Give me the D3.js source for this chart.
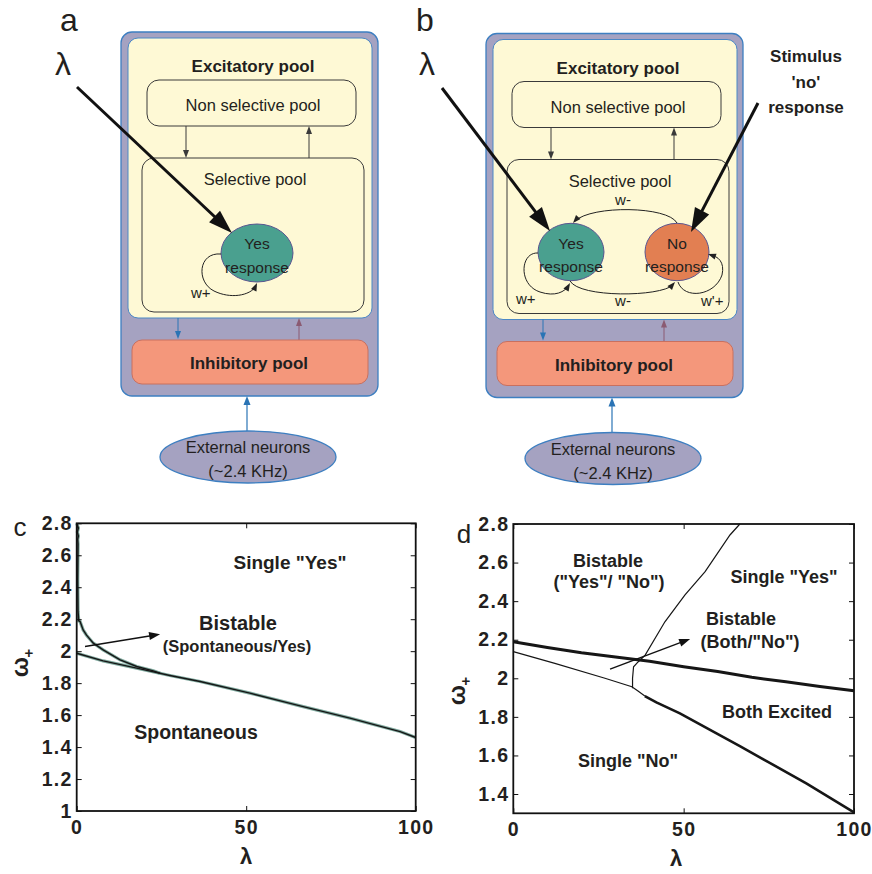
<!DOCTYPE html>
<html><head><meta charset="utf-8">
<script src="https://cdn.jsdelivr.net/npm/d3@7"></script>
<style>
body{margin:0;background:#fff}
svg{display:block}
text{font-family:"Liberation Sans",Arial,Helvetica,sans-serif;fill:#231f20}
</style>
</head><body>
<svg id="fig" width="872" height="874"></svg>
<script>
// ---------------- data ----------------
const lambdaTicks = [0, 50, 100];
const cOmegaTicks = [1, 1.2, 1.4, 1.6, 1.8, 2, 2.2, 2.4, 2.6, 2.8];
const dOmegaTicks = [1.4, 1.6, 1.8, 2, 2.2, 2.4, 2.6, 2.8];

// panel c: boundary curves (lambda, omega+)
const cUpperLambda = [0, 0.5, 0.2, 0.5, 0.3, 0.4, 0.3, 0.4, 0.6, 1.0, 1.9, 2.9, 4.9, 7.8, 12.8, 17.7, 22.6, 24.6];
const cUpperOmega  = [2.8, 2.77, 2.745, 2.72, 2.70, 2.67, 2.45, 2.25, 2.19, 2.185, 2.133, 2.10, 2.05, 2.008, 1.946, 1.904, 1.877, 1.862];
const cLowerLambda = [0, 7.8, 17.7, 27.5, 36.4, 51.1, 65.9, 80.6, 95.4, 100];
const cLowerOmega  = [1.987, 1.939, 1.894, 1.848, 1.81, 1.7375, 1.658, 1.581, 1.497, 1.46];

// panel d: boundary curves
const dUpperLambda = [0, 10, 20, 30, 40, 50, 60, 70, 80, 90, 100];
const dUpperOmega  = [2.19, 2.16, 2.132, 2.11, 2.088, 2.06, 2.035, 2.005, 1.982, 1.958, 1.935];
const dLowerThinLambda = [0, 12.2, 26.9, 34.8, 36.5, 38.6];
const dLowerThinOmega  = [2.138, 2.077, 2.0, 1.956, 1.935, 1.908];
const dLowerThickLambda = [38.6, 42, 48.9, 58.7, 66.5, 73.4, 86, 100];
const dLowerThickOmega  = [1.908, 1.875, 1.818, 1.723, 1.648, 1.58, 1.455, 1.305];
const dSteepLambda = [35.0, 35.0, 35.3, 36.7, 38.7, 44.5, 50.4, 56.3, 63.6, 66.5];
const dSteepOmega  = [1.948, 2.0, 2.06, 2.086, 2.12, 2.293, 2.432, 2.553, 2.743, 2.8];

// annotation arrows (data coords: lambda, omega)
const cArrowLambda = [2.45, 24.6], cArrowOmega = [2.029, 2.106];
const dArrowLambda = [28.4, 51.9], dArrowOmega = [2.048, 2.204];

// ---------------- helpers ----------------
const svg = d3.select('#fig');
const zip = (a, b) => a.map((v, i) => [v, b[i]]);

function head(g, tipX, tipY, fromX, fromY, len, w, color) {
  const a = Math.atan2(tipY - fromY, tipX - fromX);
  const bx = tipX - len * Math.cos(a), by = tipY - len * Math.sin(a);
  const px = -Math.sin(a) * w / 2, py = Math.cos(a) * w / 2;
  g.append('path')
    .attr('d', `M${tipX},${tipY}L${bx + px},${by + py}L${bx - px},${by - py}Z`)
    .attr('fill', color);
  return [tipX - (len * 0.7) * Math.cos(a), tipY - (len * 0.7) * Math.sin(a)];
}
function arrow(g, x1, y1, x2, y2, sw, len, w, color) {
  const [bx, by] = head(g, x2, y2, x1, y1, len, w, color);
  g.append('line').attr('x1', x1).attr('y1', y1).attr('x2', bx).attr('y2', by)
    .attr('stroke', color).attr('stroke-width', sw);
}
function curveArrow(g, d, tip, from, color) {
  g.append('path').attr('d', d).attr('fill', 'none').attr('stroke', color).attr('stroke-width', 1);
  head(g, tip[0], tip[1], from[0], from[1], 8, 6, color);
}
function txt(g, x, y, s, size, weight, anchor) {
  return g.append('text').attr('x', x).attr('y', y).attr('font-size', size)
    .attr('font-weight', weight || 'normal').attr('text-anchor', anchor || 'middle').text(s);
}

// ---------------- diagrams a & b ----------------
const PURPLE = '#a5a2c1', BLUE = '#3d7fc1', YELLOW = '#fef9d5', GREY = '#3a3a3a';
function drawFrame(ox, oy) {
  const g = svg.append('g').attr('transform', `translate(${ox},${oy})`);
  g.append('rect').attr('x', 121).attr('y', 32).attr('width', 257).attr('height', 364).attr('rx', 11)
    .attr('fill', PURPLE).attr('stroke', BLUE).attr('stroke-width', 1.3);
  g.append('rect').attr('x', 128).attr('y', 38).attr('width', 244).attr('height', 280).attr('rx', 10)
    .attr('fill', YELLOW).attr('stroke', '#4b88c6').attr('stroke-width', 1);
  txt(g, 253, 72, 'Excitatory pool', 17, 'bold');
  g.append('rect').attr('x', 147).attr('y', 80).attr('width', 209).attr('height', 46).attr('rx', 12)
    .attr('fill', 'none').attr('stroke', GREY).attr('stroke-width', 1);
  txt(g, 253, 111, 'Non selective pool', 16.5);
  g.append('rect').attr('x', 142).attr('y', 158).attr('width', 222).attr('height', 154).attr('rx', 12)
    .attr('fill', 'none').attr('stroke', GREY).attr('stroke-width', 1);
  txt(g, 255, 185, 'Selective pool', 16.5);
  arrow(g, 186, 126, 186, 158, 1, 8, 6, GREY);
  arrow(g, 309, 158, 309, 126, 1, 8, 6, GREY);
  arrow(g, 178, 318, 178, 339, 1, 8, 6, '#2a74b5');
  arrow(g, 299, 340, 299, 318, 1, 8, 6, '#8b5b72');
  g.append('rect').attr('x', 132).attr('y', 340).attr('width', 236).attr('height', 44).attr('rx', 10)
    .attr('fill', '#f4977b').attr('stroke', '#c9705f').attr('stroke-width', 1);
  txt(g, 249, 369, 'Inhibitory pool', 17, 'bold');
  arrow(g, 247, 432, 247, 396, 1.2, 9, 7, '#2a74b5');
  g.append('ellipse').attr('cx', 248).attr('cy', 457).attr('rx', 88).attr('ry', 26)
    .attr('fill', PURPLE).attr('stroke', BLUE).attr('stroke-width', 1.3);
  txt(g, 248, 453, 'External neurons', 16.5);
  txt(g, 248, 477, '(~2.4 KHz)', 16.5);
  return g;
}

// panel a
const ga = drawFrame(0, 0);
txt(ga, 69, 31, 'a', 32);
txt(ga, 63, 75, 'λ', 32);
ga.append('ellipse').attr('cx', 257).attr('cy', 253).attr('rx', 36).attr('ry', 29)
  .attr('fill', '#4aa08f').attr('stroke', '#5a5690').attr('stroke-width', 1);
txt(ga, 257, 249, 'Yes', 15.5);
txt(ga, 257, 273, 'response', 15.5);
curveArrow(ga, 'M221,254 C198,252 196,282 214,291 C230,299 250,296 256,286', [257, 283], [253, 292], '#222');
txt(ga, 191, 298, 'w+', 15, 'normal', 'start');
arrow(ga, 77, 87, 232, 233, 3, 24, 16, '#111');

// panel b
const gb = drawFrame(365, 1.5);
txt(svg, 425, 31, 'b', 32);
txt(svg, 427, 75, 'λ', 32);
svg.append('ellipse').attr('cx', 571).attr('cy', 252).attr('rx', 33).attr('ry', 28.7)
  .attr('fill', '#4aa08f').attr('stroke', '#5a5690').attr('stroke-width', 1);
svg.append('ellipse').attr('cx', 677).attr('cy', 252).attr('rx', 32).attr('ry', 28.7)
  .attr('fill', '#e27f52').attr('stroke', '#5a5690').attr('stroke-width', 1);
txt(svg, 571, 249, 'Yes', 15.5);
txt(svg, 571, 272, 'response', 15.5);
txt(svg, 677, 249, 'No', 15.5);
txt(svg, 677, 272, 'response', 15.5);
txt(svg, 623, 205, 'w-', 15);
txt(svg, 623, 306, 'w-', 15);
txt(svg, 516, 304, 'w+', 15, 'normal', 'start');
txt(svg, 701, 306, "w'+", 15, 'normal', 'start');
curveArrow(svg, 'M677,223 C668,206 592,205 575,221', [573, 223], [580, 215], '#222');
curveArrow(svg, 'M570,281 C580,298 660,297 673,285', [675, 282], [668, 290], '#222');
curveArrow(svg, 'M538,253 C520,252 518,285 540,292 C555,297 565,292 569,285', [570, 283], [566, 290], '#222');
curveArrow(svg, 'M678,282 C684,300 715,296 722,275 C725,262 718,256 710,255', [708, 254], [714, 256], '#222');
arrow(svg, 442, 88, 550, 231, 3, 24, 16, '#111');
arrow(svg, 758, 103, 691, 232, 3, 24, 16, '#111');
txt(svg, 806, 62, 'Stimulus', 17, 'bold');
txt(svg, 806, 88, "'no'", 17, 'bold');
txt(svg, 806, 113, 'response', 17, 'bold');

// ---------------- charts c & d ----------------
const fmt = d => (d === Math.round(d) ? String(d) : d.toFixed(1));
function drawAxes(g, x, y, yTicks) {
  const [x0, x1] = x.range(), [y0, y1] = y.range();
  g.append('g').attr('transform', `translate(0,${y0})`)
    .call(d3.axisBottom(x).tickValues(lambdaTicks).tickSize(-5).tickPadding(9));
  g.append('g').attr('transform', `translate(${x0},0)`)
    .call(d3.axisLeft(y).tickValues(yTicks).tickSize(-5).tickPadding(4).tickFormat(fmt));
  g.append('g').attr('transform', `translate(0,${y1})`)
    .call(d3.axisTop(x).tickValues(lambdaTicks).tickSize(-5).tickFormat(''));
  g.append('g').attr('transform', `translate(${x1},0)`)
    .call(d3.axisRight(y).tickValues(yTicks).tickSize(-5).tickFormat(''));
  g.selectAll('.domain').remove();
  g.selectAll('.tick line').attr('stroke', '#111').attr('stroke-width', 1);
  g.selectAll('.tick text').attr('font-family', '"Liberation Sans",Arial,sans-serif')
    .attr('font-size', 19.5).attr('font-weight', 'bold').attr('fill', '#231f20')
    .attr('letter-spacing', 1.3);
  g.append('rect').attr('x', x0).attr('y', y1).attr('width', x1 - x0).attr('height', y0 - y1)
    .attr('fill', 'none').attr('stroke', '#111').attr('stroke-width', 1.8);
}
function omegaLabel(g, cx, cy, px, py) {
  g.append('text').attr('transform', `translate(${cx},${cy}) rotate(-90)`)
    .attr('text-anchor', 'middle').attr('dominant-baseline', 'central')
    .attr('font-size', 24).attr('font-weight', 'bold').text('ω');
  g.append('text').attr('x', px).attr('y', py).attr('text-anchor', 'middle')
    .attr('font-size', 15).attr('font-weight', 'bold').text('+');
}

// panel c
const gc = svg.append('g');
const xc = d3.scaleLinear().domain([0, 100]).range([76.7, 415.7]);
const yc = d3.scaleLinear().domain([1, 2.8]).range([811, 523.3]);
const lineC = d3.line().x(d => xc(d[0])).y(d => yc(d[1]));
[zip(cLowerLambda, cLowerOmega), zip(cUpperLambda, cUpperOmega)].forEach(pts => {
  gc.append('path').attr('d', lineC(pts)).attr('fill', 'none').attr('stroke', '#7ea89d').attr('stroke-width', 3.2);
});
[zip(cLowerLambda, cLowerOmega), zip(cUpperLambda, cUpperOmega)].forEach(pts => {
  gc.append('path').attr('d', lineC(pts)).attr('fill', 'none').attr('stroke', '#161616').attr('stroke-width', 1.4);
});
drawAxes(gc, xc, yc, cOmegaTicks);
arrow(gc, xc(cArrowLambda[0]), yc(cArrowOmega[0]), xc(cArrowLambda[1]), yc(cArrowOmega[1]), 1.4, 11, 8, '#111');
txt(gc, 20, 536, 'c', 26);
omegaLabel(gc, 19, 667, 29, 658);
txt(gc, 246, 864, 'λ', 22, 'bold');
txt(gc, 290, 569, 'Single "Yes"', 19, 'bold');
txt(gc, 238, 630, 'Bistable', 20, 'bold');
txt(gc, 237, 652, '(Spontaneous/Yes)', 16.5, 'bold');
txt(gc, 196, 739, 'Spontaneous', 19.5, 'bold');

// panel d
const gd = svg.append('g');
const xd = d3.scaleLinear().domain([0, 100]).range([513.3, 854]);
const yd = d3.scaleLinear().domain([1.3, 2.8]).range([813.3, 524]);
const lineD = d3.line().x(d => xd(d[0])).y(d => yd(d[1]));
gd.append('path').attr('d', lineD(zip(dUpperLambda, dUpperOmega))).attr('fill', 'none').attr('stroke', '#161616').attr('stroke-width', 3);
gd.append('path').attr('d', lineD(zip(dLowerThinLambda, dLowerThinOmega))).attr('fill', 'none').attr('stroke', '#161616').attr('stroke-width', 1.2);
gd.append('path').attr('d', lineD(zip(dLowerThickLambda, dLowerThickOmega))).attr('fill', 'none').attr('stroke', '#161616').attr('stroke-width', 2.6);
gd.append('path').attr('d', lineD(zip(dSteepLambda, dSteepOmega))).attr('fill', 'none').attr('stroke', '#161616').attr('stroke-width', 1.2);
drawAxes(gd, xd, yd, dOmegaTicks);
arrow(gd, xd(dArrowLambda[0]), yd(dArrowOmega[0]), xd(dArrowLambda[1]), yd(dArrowOmega[1]), 1.4, 11, 8, '#111');
txt(gd, 464, 543, 'd', 26);
omegaLabel(gd, 456, 695, 466, 686);
txt(gd, 676, 866, 'λ', 22, 'bold');
txt(gd, 608, 567, 'Bistable', 18, 'bold');
txt(gd, 609, 588, '("Yes"/ "No")', 18, 'bold');
txt(gd, 784, 583, 'Single "Yes"', 18, 'bold');
txt(gd, 741, 625, 'Bistable', 18, 'bold');
txt(gd, 750, 648, '(Both/"No")', 18, 'bold');
txt(gd, 777, 718, 'Both Excited', 18, 'bold');
txt(gd, 628, 767, 'Single "No"', 18, 'bold');
</script>
</body></html>
